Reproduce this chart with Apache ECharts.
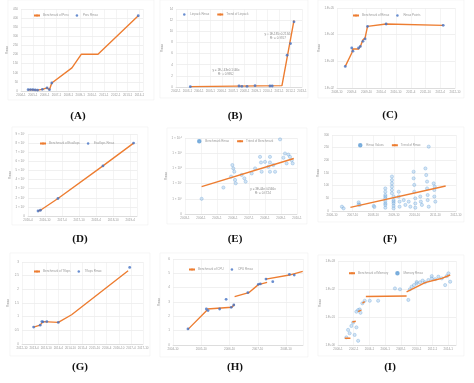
<!DOCTYPE html>
<html><head><meta charset="utf-8">
<script src="https://cdn.jsdelivr.net/npm/echarts@6/dist/echarts.min.js"></script>
<style>html,body{margin:0;padding:0;background:#fff}#c{width:474px;height:383px}</style>
</head><body><div id="c"></div>
<script>
// ---------- DATA ----------
// Panel A
const aXLabels = ['2004-1','2005-1','2006-1','2007-1','2008-1','2009-1','2010-1','2011-1','2012-1','2013-1','2014-1'];
const aLineX = [0.6,1.0,1.4,1.8,2.2,2.4,2.6,4.3,5.1,6.5,9.9];
const aLineY = [7,7,5,9,17,7,44,127,202,202,413];
const aPtX = [0.6,0.8,1.0,1.2,1.4,1.8,2.2,2.4,2.6,9.9];
const aPtY = [7,8,7,6,5,9,17,7,44,413];
// Panel B
const bXLabels = ['2002-1','2003-1','2004-1','2005-1','2006-1','2007-1','2008-1','2009-1','2010-1','2011-1','2012-1','2013-1'];
const bLineX = [1.25,9.25,10.3];
const bLineY = [0.06,0.24,11.95];
const bPtX = [1.25,5.5,5.75,6.2,6.9,8.2,8.4,9.7,10.0,10.3];
const bPtY = [0.06,0.18,0.12,0.12,0.24,0.18,0.18,5.7,7.8,11.7];
// Panel C
const cXLabels = ['2008-10','2009-4','2009-10','2010-4','2010-10','2011-4','2011-10','2012-4','2012-10'];
const cYLabels = ['1.E+02','1.E+03','1.E+04','1.E+05'];
const cLineX = [0.56,1.0,1.08,1.46,1.58,1.76,1.9,2.07,3.33,7.2];
const cLineY = [0.81,1.31,1.46,1.46,1.56,1.81,1.87,2.31,2.4,2.35];
const cPtX = [0.56,1.0,1.08,1.46,1.58,1.76,1.9,2.07,3.33,7.2];
const cPtY = [0.81,1.5,1.38,1.5,1.56,1.75,1.84,2.31,2.4,2.35];
// Panel D
const dXLabels = ['2016-4','2016-10','2017-4','2017-10','2018-4','2018-10','2019-4'];
const dYLabels = ['0','1 × 10⁷','2 × 10⁷','3 × 10⁷','4 × 10⁷','5 × 10⁷','6 × 10⁷','7 × 10⁷','8 × 10⁷','9 × 10⁷'];
const dLineX = [0.59,0.73,1.76,4.4,6.2];
const dLineY = [0.55,0.63,1.92,5.5,8.0];
const dPtX = [0.59,0.73,1.76,4.4,6.2];
const dPtY = [0.55,0.63,1.92,5.5,8.0];
// Panel E
const eXLabels = ['2003-1','2004-1','2005-1','2006-1','2007-1','2008-1','2009-1','2010-1'];
const eYLabels = ['0','1 × 10⁶','1 × 10⁷','1 × 10⁸','1 × 10⁹','1 × 10¹⁰'];
const eLineX = [1.04,6.8];
const eLineY = [1.8,3.65];
const ePtX = [1.04,2.4,2.96,3.02,3.08,3.13,3.17,2.88,3.71,3.79,3.54,4.69,4.75,4.79,5.0,5.21,5.31,5.31,5.31,5.52,5.63,5.94,6.15,6.25,6.35,6.46,6.56,6.67,6.73,4.38,4.17];
const ePtY = [1.0,1.74,3.22,3.0,2.78,2.24,2.02,2.46,2.35,2.13,2.57,3.76,3.39,2.78,3.43,3.11,3.76,2.78,3.39,3.22,2.78,4.91,3.7,3.98,3.33,3.91,3.76,3.54,3.33,3.0,2.67];
// Panel F
const fXLabels = ['2006-10','2007-10','2008-10','2009-10','2010-10','2011-10','2012-10'];
const fLineX = [0.89,5.5];
const fLineY = [14.5,98.7];
const fPtX = [0.48,0.56,1.29,1.29,1.34,2.02,2.05,2.58,2.58,2.58,2.58,2.58,2.58,2.58,2.58,2.58,2.9,2.9,2.9,2.9,2.9,2.9,2.98,2.98,2.98,2.98,2.98,2.98,3.23,3.23,3.27,3.27,3.47,3.55,3.71,3.79,3.95,3.95,3.98,3.98,4.03,4.03,4.03,4.27,4.3,4.35,4.52,4.56,4.6,4.6,4.63,4.63,4.68,4.68,4.92,4.95,4.95,5.0,4.97];
const fPtY = [17,10.5,34,26,24,20,16,89,76,63,57,50,39,30,24,13,136,122,109,96,83,70,57,43,37,30,20,10.5,76,57,37,17,43,24,37,17,155,129,103,76,50,30,13,57,37,24,168,142,116,89,63,43,254,17,109,83,57,37,96];
// Panel G
const gXLabels = ['2012-10','2013-4','2013-10','2014-4','2014-10','2015-4','2015-10','2016-4','2016-10','2017-4','2017-10'];
const gLineX = [0.96,1.5,1.73,3.0,4.1,8.77];
const gLineY = [0.62,0.69,0.82,0.79,1.07,2.68];
const gPtX = [0.96,1.5,1.64,1.73,2.05,3.0,8.9];
const gPtY = [0.62,0.69,0.82,0.81,0.82,0.79,2.8];
// Panel H
const hXLabels = ['2004-10','2005-10','2006-10','2007-10','2008-10'];
const hLineX = [0.53,1.21,1.21,1.21,2.08,2.18,2.18,2.18,2.68,3.02,3.33,3.3,3.29,4.12,4.59];
const hLineY = [1.09,2.44,'-',2.51,2.63,2.84,'-',3.37,3.65,4.21,4.37,'-',4.6,4.88,5.14];
const hPtX = [0.53,1.18,1.24,1.65,1.88,2.06,2.15,2.65,3.02,3.09,3.29,3.53,4.12,4.29];
const hPtY = [1.12,2.51,2.4,2.51,3.19,2.63,2.79,3.65,4.23,4.26,4.6,4.42,4.93,4.88];
// Panel I
const iXLabels = ['2000-1','2002-1','2004-1','2006-1','2008-1','2010-1','2012-1','2014-1'];
const iYLabels = ['1.E+00','1.E+01','1.E+02','1.E+03'];
const iLineX = [0.43,0.79,0.8,0.91,1.13,1.2,1.28,1.49,1.5,1.55,1.70,1.72,1.77,4.36,4.36,4.36,5.0,5.53,6.17,6.6,7.13];
const iLineY = [0.24,0.24,'-',0.82,0.85,'-',1.19,1.25,'-',1.49,1.55,'-',1.73,1.75,'-',1.9,2.08,2.23,2.32,2.38,2.5];
const iPtX = [0.53,0.64,0.74,0.85,0.96,1.06,1.17,1.28,1.17,1.28,1.38,1.43,1.55,1.70,2.02,2.55,3.62,3.94,4.47,4.57,4.68,4.83,5.0,5.21,5.38,5.53,5.74,5.96,6.17,6.38,6.6,6.81,6.91,7.02,7.13,5.96,5.0];
const iPtY = [0.27,0.54,0.42,0.68,0.8,0.36,0.63,0.15,1.19,1.25,1.27,1.15,1.49,1.58,1.58,1.58,2.02,1.99,1.61,1.99,2.08,2.14,2.2,2.24,2.3,2.24,2.32,2.38,2.35,2.44,2.38,2.14,2.46,2.56,2.26,2.46,2.25];

// ---------- BUILD ----------
const ORANGE = '#ED7D31', BLUE = '#4472C4', LBLUE = 'rgba(157,195,230,0.55)';
const zip = (xs, ys) => xs.map((x, i) => [x, ys[i]]);
const panels = [
  {id:'A', grid:[21,9,122,82], x:[0,10.3,1,aXLabels], y:[0,450,50,null], lx:aLineX, ly:aLineY, px:aPtX, py:aPtY,
   names:['Benchmark of Peru','Peru Rmax'], ptFirst:false, legend:[33,14], label:[78,116], frame:[8,0,146,100]},
  {id:'B', grid:[176,9,126,78], x:[0,11,1,bXLabels], y:[0,14,2,null], lx:bLineX, ly:bLineY, px:bPtX, py:bPtY,
   names:['Trend of Linpack','Linpack Rmax'], ptFirst:true, legend:[183,13], label:[235,116], frame:[160,0,148,98]},
  {id:'C', grid:[337,8,118,80], x:[0,8,1,cXLabels], y:[0,3,1,cYLabels], lx:cLineX, ly:cLineY, px:cPtX, py:cPtY,
   names:['Benchmark of Rmax','Rmax Points'], ptFirst:false, legend:[352,14], label:[390,115], frame:[318,0,146,98]},
  {id:'D', grid:[28,134,109,82], x:[0,6.4,1,dXLabels], y:[0,9,1,dYLabels], lx:dLineX, ly:dLineY, px:dPtX, py:dPtY,
   names:['Benchmark of Exaflops','Exaflops Rmax'], ptFirst:false, legend:[39,142], label:[80,239], frame:[12,127,136,98]},
  {id:'E', grid:[185,138,112,76], x:[0,7,1,eXLabels], y:[0,5,1,eYLabels], lx:eLineX, ly:eLineY, px:ePtX, py:ePtY,
   names:['Trend of Benchmark','Benchmark Rmax'], ptFirst:true, light:true, legend:[197,139], label:[235,239], frame:[167,128,140,96]},
  {id:'F', grid:[332,135,124,76], x:[0,6,1,fXLabels], y:[0,300,50,null], lx:fLineX, ly:fLineY, px:fPtX, py:fPtY,
   names:['Trend of Rmax','Rmax Values'], ptFirst:true, light:true, legend:[358,143], label:[390,239], frame:[318,127,146,95]},
  {id:'G', grid:[22,262,121,82], x:[0,10,1,gXLabels], y:[0,3,0.5,null], lx:gLineX, ly:gLineY, px:gPtX, py:gPtY,
   names:['Benchmark of Tflops','Tflops Rmax'], ptFirst:false, legend:[33,270], label:[80,367], frame:[10,253,140,103]},
  {id:'H', grid:[173,259,130,86], x:[0,4.6,1,hXLabels], y:[0,6,1,null], lx:hLineX, ly:hLineY, px:hPtX, py:hPtY,
   names:['Benchmark of CPU','CPU Rmax'], ptFirst:false, legend:[188,268], label:[235,367], frame:[160,253,148,104]},
  {id:'I', grid:[338,261,118,84], x:[0,7.5,1,iXLabels], y:[0,3,1,iYLabels], lx:iLineX, ly:iLineY, px:iPtX, py:iPtY,
   names:['Benchmark of Memory','Memory Rmax'], ptFirst:false, light:true, legend:[348,271], label:[390,367], frame:[318,255,146,101]}
];

const grids = [], xAxes = [], yAxes = [], series = [], legends = [], graphics = [];
const tiny = {fontSize: 3, color: '#9a9a9a', fontFamily: 'Liberation Sans'};
panels.forEach((p, k) => {
  graphics.push({type:'rect', shape:{x:p.frame[0], y:p.frame[1], width:p.frame[2], height:p.frame[3]},
    style:{fill:'none', stroke:'#f0f0f0', lineWidth:0.6}, z:-1});
  graphics.push({type:'text', x:p.label[0], y:p.label[1], style:{text:'(' + p.id + ')', fill:'#111',
    font:'bold 11px "Liberation Serif", "DejaVu Serif", serif', textAlign:'center', textVerticalAlign:'middle'}});
  grids.push({left:p.grid[0], top:p.grid[1], width:p.grid[2], height:p.grid[3], containLabel:false});
  const xl = p.x[3];
  xAxes.push({type:'value', gridIndex:k, min:p.x[0], max:p.x[1], interval:p.x[2],
    axisLine:{show:true, lineStyle:{color:'#d0d0d0', width:0.6}}, axisTick:{show:false},
    splitLine:{show:true, lineStyle:{color:'#ececec', width:0.6}},
    axisLabel:Object.assign({}, tiny, {margin:3, showMaxLabel: Number.isInteger(p.x[1]),
      formatter: v => { const i = Math.round(v / p.x[2]); return xl[i] !== undefined ? xl[i] : ''; }})});
  const yl = p.y[3];
  yAxes.push({type:'value', gridIndex:k, min:p.y[0], max:p.y[1], interval:p.y[2],
    name:'Rmax', nameLocation:'middle', nameRotate:90, nameGap:12, nameTextStyle:Object.assign({}, tiny),
    axisLine:{show:false}, axisTick:{show:false},
    splitLine:{show:true, lineStyle:{color:'#e6e6e6', width:0.6}},
    axisLabel:Object.assign({}, tiny, {margin:3,
      formatter: v => yl ? (yl[Math.round(v / p.y[2])] || '') : String(v)})});
  const lineS = {name:p.names[0], type:'line', xAxisIndex:k, yAxisIndex:k, data:zip(p.lx, p.ly),
    showSymbol:false, symbol:'none', lineStyle:{color:ORANGE, width:1.4}, itemStyle:{color:ORANGE},
    connectNulls:false, z:3, animation:false};
  const ptS = {name:p.names[1], type:'scatter', xAxisIndex:k, yAxisIndex:k, data:zip(p.px, p.py),
    symbolSize: p.light ? 3.2 : 2.8, z: p.light ? 2 : 4, animation:false,
    itemStyle: p.light ? {color:LBLUE, borderColor:'#5B9BD5', borderWidth:0.4} : {color:BLUE}};
  series.push(lineS, ptS);
  legends.push({left:p.legend[0], top:p.legend[1], orient:'horizontal', itemWidth:6, itemHeight:2.5, itemGap:7,
    textStyle:Object.assign({}, tiny, {padding:[0,0,0,-2]}), padding:0, selectedMode:false,
    data: p.ptFirst ? [p.names[1], p.names[0]] : [p.names[0], p.names[1]]});
});
// equation annotations
const eqStyle = {fill:'#888', font:'3px "Liberation Sans"', textAlign:'center', lineHeight:4};
graphics.push({type:'text', x:226, y:68, style:Object.assign({text:'y = 1E-143e0.1646x\nR² = 0.9952'}, eqStyle)});
graphics.push({type:'text', x:278, y:32, style:Object.assign({text:'y = 1E-185e0.2134x\nR² = 0.9707'}, eqStyle)});
graphics.push({type:'text', x:263, y:187, style:Object.assign({text:'y = 3E-44e0.0566x\nR² = 0.6724'}, eqStyle)});

const chart = echarts.init(document.getElementById('c'), null, {renderer:'canvas'});
chart.setOption({animation:false, backgroundColor:'#fff', grid:grids, xAxis:xAxes, yAxis:yAxes,
  series:series, legend:legends, graphic:graphics});
</script></body></html>
